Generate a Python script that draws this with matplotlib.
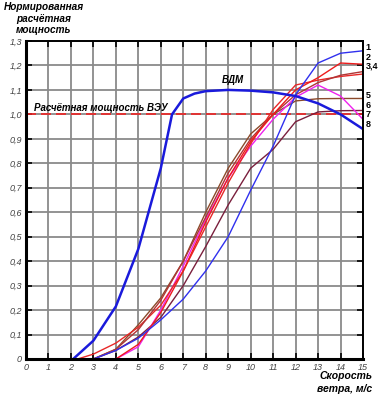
import matplotlib
matplotlib.use("Agg")
import matplotlib.pyplot as plt

plt.rcParams['font.family'] = ['Liberation Sans', 'DejaVu Sans']

# VDM curve
vdm_v = [2.1, 3, 4, 5, 6, 6.5, 7, 7.5, 8, 9, 10, 11, 12, 13, 14, 15]
vdm_p = [0, 0.075, 0.215, 0.45, 0.78, 1.0, 1.065, 1.085, 1.095, 1.1, 1.097, 1.09, 1.075, 1.045, 1.0, 0.94]

# Turbine curves
c1_v = [3, 4, 5, 6, 7, 8, 9, 10, 11, 12, 13, 14, 15]
c1_p = [0.0, 0.035, 0.085, 0.16, 0.245, 0.36, 0.5, 0.69, 0.87, 1.08, 1.21, 1.25, 1.26]

c2_v = [4, 5, 6, 7, 8, 9, 10, 11, 12, 13, 14, 15]
c2_p = [0.0, 0.06, 0.19, 0.36, 0.56, 0.74, 0.89, 1.0, 1.1, 1.15, 1.21, 1.205]

c3_v = [3, 4, 5, 6, 7, 8, 9, 10, 11, 12, 13, 14, 15]
c3_p = [0.0, 0.04, 0.12, 0.24, 0.4, 0.58, 0.76, 0.9, 1.0, 1.08, 1.13, 1.16, 1.175]

c4_v = [2.3, 3, 4, 5, 6, 7, 8, 9, 10, 11, 12, 13, 14, 15]
c4_p = [0.0, 0.02, 0.065, 0.13, 0.22, 0.36, 0.54, 0.72, 0.88, 1.02, 1.12, 1.14, 1.155, 1.165]

c5_v = [4, 5, 6, 7, 8, 9, 10, 11, 12, 13, 14, 15]
c5_p = [0.0, 0.05, 0.2, 0.38, 0.57, 0.74, 0.87, 0.98, 1.07, 1.12, 1.075, 0.98]

c6_v = [3, 4, 5, 6, 7, 8, 9, 10, 11, 12, 13, 14, 15]
c6_p = [0.0, 0.04, 0.14, 0.25, 0.4, 0.6, 0.78, 0.92, 1.0, 1.055, 1.064, 1.065, 1.065]

c7_v = [3, 4, 5, 6, 7, 8, 9, 10, 11, 12, 13, 14, 15]
c7_p = [0.0, 0.035, 0.09, 0.17, 0.3, 0.46, 0.63, 0.78, 0.857, 0.97, 1.01, 1.015, 1.016]

curve_labels = ["1", "2", "3,4", "5", "6", "7", "8"]
label_y = [1.275, 1.234, 1.197, 1.078, 1.037, 1.0, 0.959]

x_ticks = list(range(0, 16))
y_ticks = [0, 0.1, 0.2, 0.3, 0.4, 0.5, 0.6, 0.7, 0.8, 0.9, 1.0, 1.1, 1.2, 1.3]
y_tick_labels = ["0", "0,1", "0,2", "0,3", "0,4", "0,5", "0,6", "0,7", "0,8", "0,9", "1,0", "1,1", "1,2", "1,3"]

fig = plt.figure(figsize=(3.79, 3.96), dpi=100)
ax = fig.add_axes([26/379, 1-359/396, (363-26)/379, (359-41)/396])

ax.set_xlim(0, 15)
ax.set_ylim(0, 1.3)
ax.set_xticks(x_ticks)
ax.set_yticks(y_ticks)
ax.set_xticklabels([str(t) for t in x_ticks], fontstyle='italic', fontsize=6.5, color='#444444')
ax.set_yticklabels(y_tick_labels, fontstyle='italic', fontsize=6.5, color='#444444')
ax.grid(True, color='#8a8a8a', linewidth=1.3)
ax.set_axisbelow(True)
ax.tick_params(direction='in', length=4, width=1.2, top=True, right=True, pad=3)

for s in ['left', 'bottom']:
    ax.spines[s].set_linewidth(2.2)
for s in ['top', 'right']:
    ax.spines[s].set_linewidth(1.4)

ax.axhline(1.0, color='#ee2222', linewidth=1.2, dashes=(6, 3), zorder=2)

ax.plot(c7_v, c7_p, color='#7a1f3d', linewidth=1.0)
ax.plot(c6_v, c6_p, color='#8b4a2b', linewidth=1.0)
ax.plot(c5_v, c5_p, color='#ee22ee', linewidth=1.0)
ax.plot(c4_v, c4_p, color='#e82828', linewidth=1.0)
ax.plot(c3_v, c3_p, color='#b03535', linewidth=1.0)
ax.plot(c2_v, c2_p, color='#ee1c1c', linewidth=1.0)
ax.plot(c1_v, c1_p, color='#3030ee', linewidth=1.0)
ax.plot(vdm_v, vdm_p, color='#1a1adb', linewidth=1.8)

for lab, yy in zip(curve_labels, label_y):
    ax.text(15.12, yy, lab, fontsize=6.5, fontweight='bold', va='center', ha='left', clip_on=False)

ax.text(0.35, 1.005, "Расчётная мощность ВЭУ", fontsize=7, fontweight='bold',
        fontstyle='italic', va='bottom', ha='left')
ax.text(9.2, 1.12, "ВДМ", fontsize=7, fontweight='bold', fontstyle='italic', va='bottom', ha='center')

fig.text(44/379, 1-2/396, "Нормированная\nрасчётная\nмощность", fontsize=7.2, fontweight='bold',
         fontstyle='italic', ha='center', va='top', linespacing=1.2)
fig.text(372/379, 1-394/396, "Скорость\nветра, м/с", fontsize=7.5, fontweight='bold',
         fontstyle='italic', ha='right', va='bottom', linespacing=1.35)

fig.savefig("out.png", dpi=100)
